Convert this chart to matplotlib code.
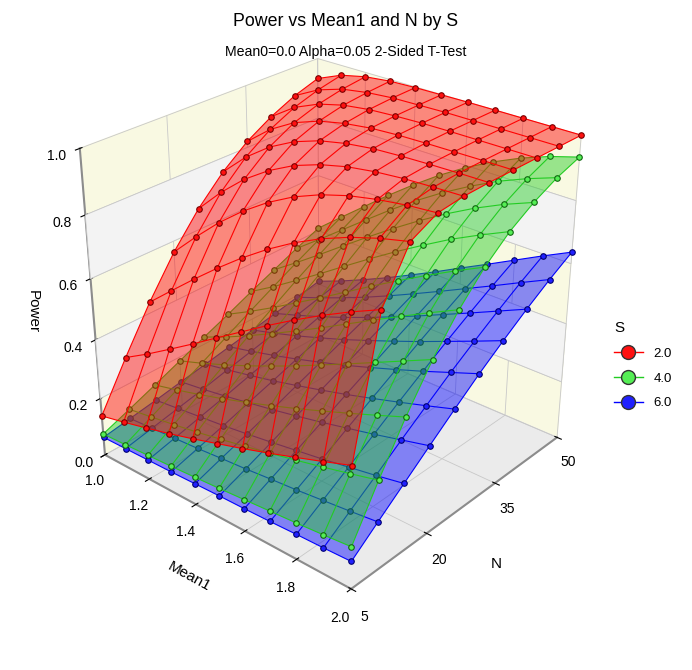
import numpy as np
import matplotlib
matplotlib.use('Agg')
import matplotlib.pyplot as plt
from matplotlib.lines import Line2D
from mpl_toolkits.mplot3d.art3d import Poly3DCollection

plt.rcParams['font.family'] = ['Liberation Sans', 'DejaVu Sans']
plt.rcParams['grid.color'] = '#C8C8C8'
plt.rcParams['grid.linewidth'] = 0.6

# data: power of one-sample t-test, rows = N, columns = Mean1
mean1 = [1.0, 1.1, 1.2, 1.3, 1.4, 1.5, 1.6, 1.7, 1.8, 1.9, 2.0]
n_values = [5, 10, 15, 20, 25, 30, 35, 40, 45, 50]
s_labels = ['2.0', '4.0', '6.0']

power_s2 = [
    [0.139, 0.158, 0.179, 0.201, 0.225, 0.251, 0.277, 0.305, 0.334, 0.364, 0.395],
    [0.293, 0.342, 0.395, 0.449, 0.505, 0.560, 0.615, 0.667, 0.716, 0.761, 0.802],
    [0.437, 0.509, 0.580, 0.648, 0.712, 0.770, 0.821, 0.864, 0.899, 0.927, 0.949],
    [0.564, 0.645, 0.721, 0.787, 0.843, 0.889, 0.924, 0.950, 0.968, 0.981, 0.989],
    [0.669, 0.751, 0.821, 0.876, 0.919, 0.949, 0.970, 0.983, 0.991, 0.995, 0.998],
    [0.754, 0.829, 0.888, 0.931, 0.960, 0.978, 0.989, 0.994, 0.997, 0.999, 1.000],
    [0.820, 0.885, 0.932, 0.962, 0.980, 0.991, 0.996, 0.998, 0.999, 1.000, 1.000],
    [0.869, 0.924, 0.959, 0.980, 0.991, 0.996, 0.999, 1.000, 1.000, 1.000, 1.000],
    [0.907, 0.950, 0.976, 0.989, 0.996, 0.998, 1.000, 1.000, 1.000, 1.000, 1.000],
    [0.934, 0.968, 0.986, 0.995, 0.998, 0.999, 1.000, 1.000, 1.000, 1.000, 1.000],
]
power_s4 = [
    [0.075, 0.079, 0.084, 0.089, 0.095, 0.101, 0.108, 0.115, 0.122, 0.130, 0.139],
    [0.111, 0.124, 0.138, 0.153, 0.170, 0.188, 0.207, 0.227, 0.248, 0.270, 0.293],
    [0.148, 0.169, 0.192, 0.217, 0.244, 0.273, 0.303, 0.335, 0.368, 0.402, 0.437],
    [0.186, 0.215, 0.247, 0.281, 0.318, 0.356, 0.397, 0.438, 0.480, 0.522, 0.564],
    [0.225, 0.261, 0.302, 0.345, 0.390, 0.436, 0.484, 0.532, 0.579, 0.625, 0.669],
    [0.262, 0.307, 0.355, 0.406, 0.457, 0.510, 0.563, 0.614, 0.663, 0.710, 0.754],
    [0.301, 0.352, 0.407, 0.463, 0.521, 0.578, 0.633, 0.685, 0.735, 0.779, 0.820],
    [0.338, 0.396, 0.456, 0.518, 0.579, 0.638, 0.694, 0.746, 0.793, 0.834, 0.869],
    [0.375, 0.438, 0.503, 0.568, 0.632, 0.692, 0.747, 0.796, 0.840, 0.876, 0.907],
    [0.410, 0.479, 0.547, 0.615, 0.679, 0.739, 0.792, 0.838, 0.877, 0.909, 0.934],
]
power_s6 = [
    [0.063, 0.065, 0.067, 0.069, 0.072, 0.075, 0.077, 0.080, 0.084, 0.087, 0.091],
    [0.078, 0.084, 0.090, 0.096, 0.104, 0.111, 0.120, 0.128, 0.138, 0.148, 0.159],
    [0.093, 0.103, 0.113, 0.123, 0.135, 0.148, 0.162, 0.176, 0.192, 0.208, 0.226],
    [0.110, 0.122, 0.136, 0.152, 0.168, 0.186, 0.205, 0.226, 0.247, 0.270, 0.293],
    [0.126, 0.143, 0.161, 0.180, 0.202, 0.225, 0.249, 0.275, 0.302, 0.330, 0.359],
    [0.143, 0.163, 0.185, 0.209, 0.235, 0.262, 0.292, 0.323, 0.355, 0.389, 0.423],
    [0.159, 0.183, 0.209, 0.238, 0.268, 0.301, 0.335, 0.370, 0.407, 0.444, 0.482],
    [0.176, 0.204, 0.234, 0.266, 0.301, 0.338, 0.376, 0.416, 0.456, 0.497, 0.538],
    [0.193, 0.225, 0.259, 0.295, 0.334, 0.375, 0.417, 0.460, 0.503, 0.547, 0.590],
    [0.211, 0.245, 0.283, 0.323, 0.366, 0.410, 0.456, 0.501, 0.547, 0.593, 0.637],
]

mean1_ticks = [1.0, 1.2, 1.4, 1.6, 1.8, 2.0]
n_ticks = [5, 20, 35, 50]
power_ticks = [0.0, 0.2, 0.4, 0.6, 0.8, 1.0]

colors = ['#FF0000', '#22CC22', '#0000FF']
marker_fill = ['#FF1010', '#55EE55', '#2020FF']
marker_edge = ['#7A0000', '#116611', '#000070']

fig = plt.figure(figsize=(6.92, 6.70), dpi=100)
ax = fig.add_axes([0.04, 0.108, 0.86, 0.86], projection='3d', computed_zorder=False)
ax.set_proj_type('persp', focal_length=0.5)
ax.view_init(elev=28, azim=-49)
ax.set_box_aspect((1, 1, 1.02), zoom=0.99)

ax.set_xlim(1.0, 2.0)
ax.set_ylim(5, 50)
ax.set_zlim(0, 1)

# panes
ax.xaxis.set_pane_color('#F9F9E2')
ax.yaxis.set_pane_color('#F9F9E2')
ax.zaxis.set_pane_color('#EBEBEB')
for a in (ax.xaxis, ax.yaxis, ax.zaxis):
    a.line.set_color('#8C8C8C')
    a.line.set_linewidth(1.5)
ax.zaxis.set_ticks_position('lower')
ax.zaxis.set_label_position('lower')

# lighter bands on back walls
x0, x1 = mean1[0], mean1[-1]
y0, y1 = n_values[0], n_values[-1]
for lo, hi in [(power_ticks[1], power_ticks[2]), (power_ticks[3], power_ticks[4])]:
    band_l = [(x0, y0, lo), (x0, y1, lo), (x0, y1, hi), (x0, y0, hi)]
    band_r = [(x0, y1, lo), (x1, y1, lo), (x1, y1, hi), (x0, y1, hi)]
    pc = Poly3DCollection([band_l, band_r], facecolor='#F3F3F3', edgecolor='#C8C8C8',
                          linewidth=0.6, zorder=0)
    ax.add_collection3d(pc)

X, Y = np.meshgrid(mean1, n_values)
tables = [power_s6, power_s4, power_s2]
order = [2, 1, 0]
z = 1
for tab, i in zip(tables, order):
    Z = np.array(tab)
    ax.plot_surface(X, Y, Z, color=colors[i], alpha=0.45, shade=False,
                    linewidth=0, antialiased=True, zorder=z)
    ax.plot_wireframe(X, Y, Z, color=colors[i], linewidth=0.8, zorder=z + 1)
    ax.scatter(X.ravel(), Y.ravel(), Z.ravel(), s=16, c=marker_fill[i],
               edgecolors=marker_edge[i], linewidths=0.8, depthshade=False,
               zorder=z + 2)
    z += 3

ax.set_xticks(mean1_ticks)
ax.set_xticklabels(['%.1f' % v for v in mean1_ticks])
ax.set_yticks(n_ticks)
ax.set_yticklabels([str(v) for v in n_ticks])
ax.set_zticks(power_ticks)
ax.set_zticklabels(['%.1f' % v for v in power_ticks])
ax.tick_params(labelsize=10, pad=2)

ax.set_xlabel('Mean1', fontsize=11, labelpad=8)
ax.set_ylabel('N', fontsize=11, labelpad=8)
ax.zaxis.set_rotate_label(False)
ax.set_zlabel('Power', fontsize=11, rotation=-90, labelpad=6)

fig.text(0.5, 0.968, 'Power vs Mean1 and N by S', ha='center', va='center', fontsize=12.8)
fig.text(0.5, 0.922, 'Mean0=0.0 Alpha=0.05 2-Sided T-Test', ha='center', va='center',
         fontsize=10.2)

handles = [Line2D([0], [0], color=colors[i], marker='o', markersize=10,
                  markerfacecolor=marker_fill[i], markeredgecolor='#333333', lw=1)
           for i in range(3)]
fig.legend(handles, s_labels, title='S', loc='center left', bbox_to_anchor=(0.87, 0.455),
           frameon=False, fontsize=9.5, title_fontsize=11, handlelength=2.2,
           labelspacing=0.95, alignment='left')

fig.savefig('out.png', dpi=100)
